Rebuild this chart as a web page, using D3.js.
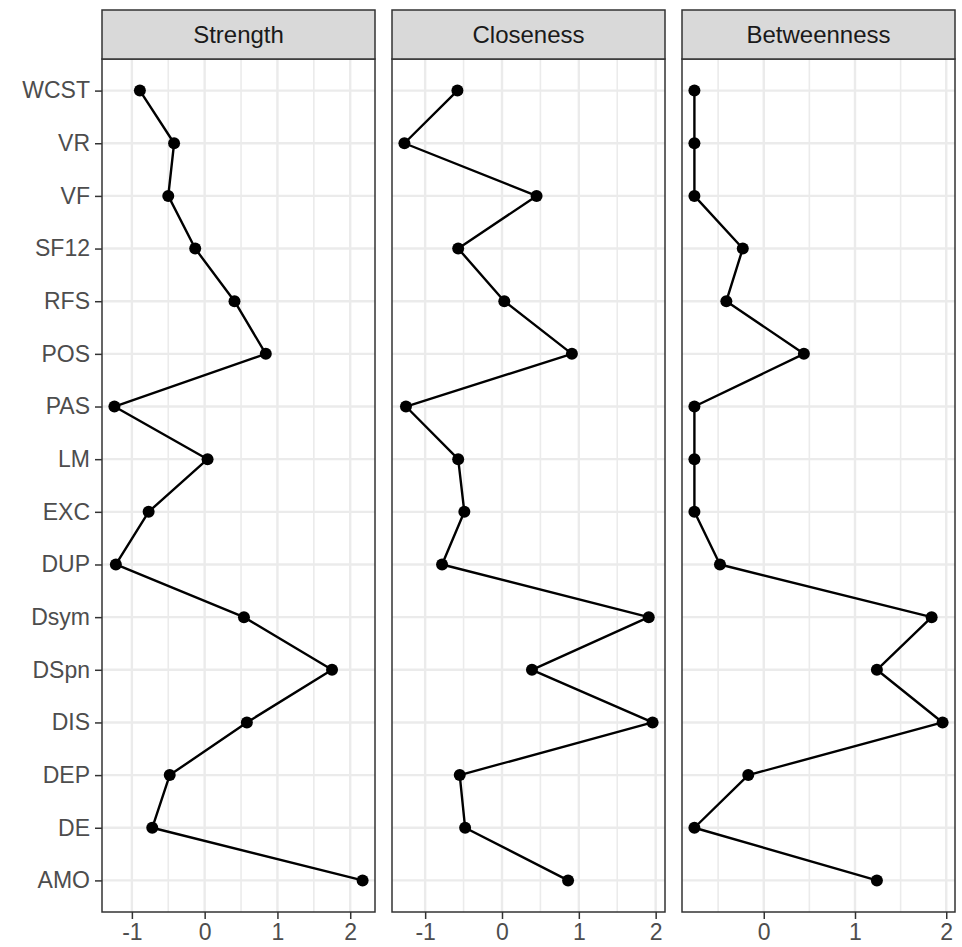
<!DOCTYPE html>
<html>
<head>
<meta charset="utf-8">
<script src="https://cdn.jsdelivr.net/npm/d3@7"></script>
<style>
  html, body { margin: 0; padding: 0; background: #fff; }
  svg { display: block; }
  text { font-family: "Liberation Sans", Arial, Helvetica, sans-serif; }
</style>
</head>
<body>
<svg id="chart" width="962" height="947"></svg>
<script>
// ---- data (top to bottom as displayed) ----
const categories = ["WCST","VR","VF","SF12","RFS","POS","PAS","LM","EXC","DUP","Dsym","DSpn","DIS","DEP","DE","AMO"];
const measures = ["Strength","Closeness","Betweenness"];
const strength    = [-0.89,-0.42,-0.50,-0.13, 0.41, 0.84,-1.24, 0.04,-0.77,-1.22, 0.54, 1.75, 0.58,-0.48,-0.72, 2.17];
const closeness   = [-0.58,-1.27, 0.45,-0.57, 0.03, 0.91,-1.25,-0.57,-0.49,-0.78, 1.91, 0.39, 1.96,-0.55,-0.48, 0.86];
const betweenness = [-0.76,-0.76,-0.76,-0.23,-0.41, 0.44,-0.76,-0.76,-0.76,-0.48, 1.84, 1.24, 1.96,-0.17,-0.76, 1.24];
const majorTicks = [[-1,0,1,2],[-1,0,1,2],[0,1,2]];
const minorTicks = [[-0.5,0.5,1.5],[-0.5,0.5,1.5],[-0.5,0.5,1.5]];
const seriesValues = [strength, closeness, betweenness];

// ---- layout ----
const svg = d3.select("#chart");
const panelLefts = [102, 392, 682];
const panelW = 273;
const stripTop = 10, plotTop = 59, plotBottom = 912;

const y = d3.scalePoint()
  .domain(categories.slice().reverse())
  .range([plotBottom, plotTop])
  .padding(0.6);

measures.forEach((m, i) => {
  const vals = seriesValues[i];
  const [lo, hi] = d3.extent(vals);
  const pad = (hi - lo) * 0.05;
  const x0 = panelLefts[i];
  const x = d3.scaleLinear().domain([lo - pad, hi + pad]).range([x0, x0 + panelW]);
  const g = svg.append("g");

  // panel background
  g.append("rect").attr("x", x0).attr("y", plotTop).attr("width", panelW)
    .attr("height", plotBottom - plotTop).attr("fill", "#fff");

  // minor grid
  g.selectAll(".minor").data(minorTicks[i].filter(t => t > x.domain()[0] && t < x.domain()[1]))
    .enter().append("line")
    .attr("x1", d => x(d)).attr("x2", d => x(d))
    .attr("y1", plotTop).attr("y2", plotBottom)
    .attr("stroke", "#EBEBEB").attr("stroke-width", 1.6);
  // major grid vertical
  g.selectAll(".majorx").data(majorTicks[i])
    .enter().append("line")
    .attr("x1", d => x(d)).attr("x2", d => x(d))
    .attr("y1", plotTop).attr("y2", plotBottom)
    .attr("stroke", "#EBEBEB").attr("stroke-width", 2.4);
  // major grid horizontal
  g.selectAll(".majory").data(categories)
    .enter().append("line")
    .attr("x1", x0).attr("x2", x0 + panelW)
    .attr("y1", d => y(d)).attr("y2", d => y(d))
    .attr("stroke", "#EBEBEB").attr("stroke-width", 2.4);

  // line
  const line = d3.line().x(d => x(d.v)).y(d => y(d.c));
  const pts = categories.map((c, k) => ({c, v: vals[k]}));
  g.append("path").datum(pts).attr("d", line)
    .attr("fill", "none").attr("stroke", "#000").attr("stroke-width", 2.4)
    .attr("stroke-linejoin", "round");
  g.selectAll(".pt").data(pts).enter().append("circle")
    .attr("cx", d => x(d.v)).attr("cy", d => y(d.c)).attr("r", 6)
    .attr("fill", "#000");

  // panel border
  g.append("rect").attr("x", x0).attr("y", plotTop).attr("width", panelW)
    .attr("height", plotBottom - plotTop).attr("fill", "none")
    .attr("stroke", "#333333").attr("stroke-width", 1.5);

  // strip
  g.append("rect").attr("x", x0).attr("y", stripTop).attr("width", panelW)
    .attr("height", plotTop - stripTop).attr("fill", "#D9D9D9")
    .attr("stroke", "#333333").attr("stroke-width", 1.5);
  g.append("text").attr("x", x0 + panelW / 2).attr("y", (stripTop + plotTop) / 2)
    .attr("text-anchor", "middle").attr("dominant-baseline", "central")
    .attr("font-size", 24).attr("fill", "#1A1A1A").text(m);

  // x axis
  const xAxis = d3.axisBottom(x).tickValues(majorTicks[i]).tickSize(7).tickPadding(5)
    .tickFormat(d => String(d));
  const ax = svg.append("g").attr("transform", `translate(0,${plotBottom})`).call(xAxis);
  ax.select(".domain").remove();
  ax.selectAll(".tick line").attr("stroke", "#333333").attr("stroke-width", 1.5);
  ax.selectAll(".tick text").attr("font-size", 23).attr("fill", "#4D4D4D")
    .attr("font-family", "Liberation Sans, Arial, sans-serif");

  if (i === 0) {
    const yAxis = d3.axisLeft(y).tickSize(7).tickPadding(5);
    const ay = svg.append("g").attr("transform", `translate(${x0},0)`).call(yAxis);
    ay.select(".domain").remove();
    ay.selectAll(".tick line").attr("stroke", "#333333").attr("stroke-width", 1.5);
    ay.selectAll(".tick text").attr("font-size", 23).attr("fill", "#4D4D4D")
      .attr("font-family", "Liberation Sans, Arial, sans-serif");
  }
});
</script>
</body>
</html>
